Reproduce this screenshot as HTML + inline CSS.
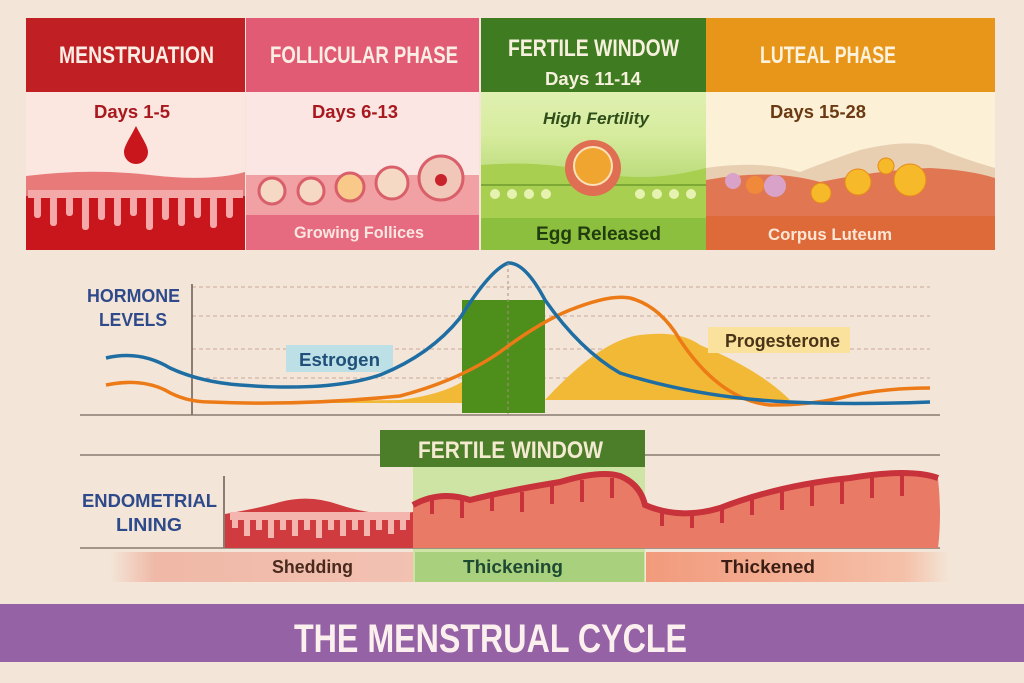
<!DOCTYPE html>
<html><head><meta charset="utf-8"><style>
html,body{margin:0;padding:0;background:#f3e6d8;}
svg{display:block}
text{font-family:"Liberation Sans Narrow","Liberation Sans",sans-serif;font-weight:bold}
</style></head><body>
<svg width="1024" height="683" viewBox="0 0 1024 683" xmlns="http://www.w3.org/2000/svg">
<defs>
<linearGradient id="gbg" x1="0" y1="0" x2="0" y2="1"><stop offset="0" stop-color="#eef7d2"/><stop offset="0.5" stop-color="#d7ec9e"/><stop offset="1" stop-color="#8fc244"/></linearGradient>
<linearGradient id="lbl" x1="0" y1="0" x2="1" y2="0"><stop offset="0" stop-color="#f3e6d8"/><stop offset="0.15" stop-color="#f0b8a6"/><stop offset="1" stop-color="#f2c1b2"/></linearGradient>
<linearGradient id="lbr" x1="0" y1="0" x2="1" y2="0"><stop offset="0" stop-color="#f29a7c"/><stop offset="0.85" stop-color="#f5c0a8"/><stop offset="1" stop-color="#f3e6d8"/></linearGradient>
</defs>
<rect width="1024" height="683" fill="#f3e6d8"/>

<!-- Panel 1 -->
<rect x="26" y="18" width="219" height="232" fill="#fbe6e0"/>
<rect x="26" y="18" width="219" height="74" fill="#c01f24"/>
<text x="59" y="63" font-size="24" fill="#fbeee4" textLength="155" lengthAdjust="spacingAndGlyphs">MENSTRUATION</text>
<text x="94" y="118" font-size="18" fill="#a8181e" textLength="76" lengthAdjust="spacingAndGlyphs">Days 1-5</text>
<path d="M136 126 C130 138 124 146 124 152 a12 12 0 0 0 24 0 C148 146 142 138 136 126Z" fill="#c8161c"/>
<path d="M26 176 Q90 168 150 175 T245 172 V250 H26Z" fill="#e87a7a"/>
<rect x="26" y="196" width="219" height="54" fill="#c8161c"/>
<g fill="#f4a8a8">
<path d="M28 190 h215 v8 H28z"/>
<rect x="34" y="196" width="7" height="22" rx="3"/><rect x="50" y="196" width="7" height="30" rx="3"/><rect x="66" y="196" width="7" height="20" rx="3"/><rect x="82" y="196" width="7" height="34" rx="3"/><rect x="98" y="196" width="7" height="24" rx="3"/><rect x="114" y="196" width="7" height="30" rx="3"/><rect x="130" y="196" width="7" height="20" rx="3"/><rect x="146" y="196" width="7" height="34" rx="3"/><rect x="162" y="196" width="7" height="24" rx="3"/><rect x="178" y="196" width="7" height="30" rx="3"/><rect x="194" y="196" width="7" height="22" rx="3"/><rect x="210" y="196" width="7" height="32" rx="3"/><rect x="226" y="196" width="7" height="22" rx="3"/>
</g>

<!-- Panel 2 -->
<rect x="246" y="18" width="233" height="232" fill="#fbe6e3"/>
<rect x="246" y="18" width="233" height="74" fill="#e05b73"/>
<text x="270" y="63" font-size="24" fill="#fbeee4" textLength="188" lengthAdjust="spacingAndGlyphs">FOLLICULAR PHASE</text>
<text x="312" y="118" font-size="18" fill="#a8181e" textLength="86" lengthAdjust="spacingAndGlyphs">Days 6-13</text>
<rect x="246" y="175" width="233" height="40" fill="#f1a0a3"/>
<rect x="246" y="215" width="233" height="35" fill="#e66a80"/>
<g stroke="#d9606a" stroke-width="3" fill="#f6d9c4">
<circle cx="272" cy="191" r="13"/><circle cx="311" cy="191" r="13"/><circle cx="350" cy="187" r="14" fill="#f9c98a"/><circle cx="392" cy="183" r="16"/><circle cx="441" cy="178" r="22" fill="#f1c7b9"/>
</g>
<circle cx="441" cy="180" r="6" fill="#c8232a"/>
<text x="294" y="238" font-size="17" fill="#fbe6e0" font-weight="normal" textLength="130" lengthAdjust="spacingAndGlyphs">Growing Follices</text>

<!-- Panel 3 -->
<rect x="481" y="18" width="225" height="232" fill="url(#gbg)"/>
<rect x="481" y="18" width="225" height="74" fill="#3f7c21"/>
<text x="508" y="56" font-size="24" fill="#f6f0dc" textLength="171" lengthAdjust="spacingAndGlyphs">FERTILE WINDOW</text>
<text x="545" y="85" font-size="18" fill="#f6f0dc" textLength="96" lengthAdjust="spacingAndGlyphs">Days 11-14</text>
<text x="543" y="124" font-size="17" fill="#2f4e1a" font-style="italic" textLength="106" lengthAdjust="spacingAndGlyphs">High Fertility</text>
<path d="M481 165 Q540 160 593 172 T706 168 V250 H481Z" fill="#a8cf50"/>
<path d="M481 185 H706" stroke="#7ca836" stroke-width="2"/>
<g fill="#e6f3b0"><circle cx="495" cy="194" r="5"/><circle cx="512" cy="194" r="5"/><circle cx="529" cy="194" r="5"/><circle cx="546" cy="194" r="5"/><circle cx="640" cy="194" r="5"/><circle cx="657" cy="194" r="5"/><circle cx="674" cy="194" r="5"/><circle cx="691" cy="194" r="5"/></g>
<rect x="481" y="218" width="225" height="32" fill="#8dbf3e"/>
<circle cx="593" cy="168" r="28" fill="#e06e52"/>
<circle cx="593" cy="166" r="19" fill="#f0a531" stroke="#fbe2b8" stroke-width="2"/>
<text x="536" y="240" font-size="19" fill="#213d10" textLength="125" lengthAdjust="spacingAndGlyphs">Egg Released</text>

<!-- Panel 4 -->
<rect x="706" y="18" width="289" height="232" fill="#fcf0d7"/>
<rect x="706" y="18" width="289" height="74" fill="#e8961a"/>
<text x="760" y="63" font-size="24" fill="#fdf2dc" textLength="136" lengthAdjust="spacingAndGlyphs">LUTEAL PHASE</text>
<text x="770" y="118" font-size="18" fill="#6b3a12" textLength="96" lengthAdjust="spacingAndGlyphs">Days 15-28</text>
<path d="M706 168 Q760 160 800 172 Q830 160 860 150 Q900 140 930 145 Q960 158 995 168 V250 H706Z" fill="#e9cfb2"/>
<path d="M706 180 Q770 168 820 182 Q880 170 930 168 Q970 170 995 178 V250 H706Z" fill="#e07752"/>
<rect x="706" y="216" width="289" height="34" fill="#de6a3a"/>
<g fill="#f5b92a" stroke="#e78a1a"><circle cx="858" cy="182" r="13"/><circle cx="910" cy="180" r="16"/><circle cx="886" cy="166" r="8"/><circle cx="821" cy="193" r="10"/></g>
<g fill="#d9a2c8"><circle cx="733" cy="181" r="8"/><circle cx="775" cy="186" r="11"/></g>
<circle cx="755" cy="185" r="9" fill="#f08a3a"/>
<text x="768" y="240" font-size="17" fill="#fbe6d6" font-weight="normal" textLength="124" lengthAdjust="spacingAndGlyphs">Corpus Luteum</text>

<!-- Hormone chart -->
<text x="87" y="302" font-size="18" fill="#2f4a8a" textLength="93" lengthAdjust="spacingAndGlyphs">HORMONE</text>
<text x="99" y="326" font-size="18" fill="#2f4a8a" textLength="68" lengthAdjust="spacingAndGlyphs">LEVELS</text>
<g stroke="#c9a79a" stroke-width="1" stroke-dasharray="4 3">
<line x1="192" y1="287" x2="930" y2="287"/><line x1="192" y1="316" x2="930" y2="316"/><line x1="192" y1="349" x2="930" y2="349"/><line x1="192" y1="378" x2="930" y2="378"/>
</g>
<line x1="192" y1="284" x2="192" y2="415" stroke="#6a5a50" stroke-width="1.5"/>
<line x1="80" y1="415" x2="940" y2="415" stroke="#8a7a70" stroke-width="1.5"/>
<path d="M200 403 L400 400 Q440 395 462 382 V403Z" fill="#f2b936"/>
<path d="M545 400 Q600 340 640 335 Q680 330 700 345 Q760 370 790 400 H545Z" fill="#f2b936"/>
<rect x="462" y="300" width="83" height="113" fill="#4e8e1a"/>
<rect x="286" y="345" width="107" height="27" fill="#bde0e6"/>
<text x="299" y="366" font-size="18" fill="#20507a" font-weight="normal" textLength="81" lengthAdjust="spacingAndGlyphs">Estrogen</text>
<rect x="708" y="327" width="142" height="26" fill="#fbe29c"/>
<text x="725" y="347" font-size="18" fill="#4a3418" font-weight="normal" textLength="115" lengthAdjust="spacingAndGlyphs">Progesterone</text>
<path d="M106 385 Q140 378 165 390 Q185 402 210 402 Q300 406 400 396 Q460 380 500 352 Q540 322 570 310 Q610 294 630 298 Q660 306 680 340 Q720 400 770 405 Q810 405 840 398 Q880 388 930 388" fill="none" stroke="#ec7a16" stroke-width="3.5"/>
<path d="M106 358 Q140 350 170 368 Q200 382 240 385 Q330 392 380 375 Q430 355 460 318 Q490 270 508 263 Q525 262 545 300 Q580 350 620 373 Q700 398 790 402 Q850 405 930 402" fill="none" stroke="#1f6ea3" stroke-width="3.5"/>
<line x1="508" y1="263" x2="508" y2="415" stroke="#a89080" stroke-width="1" stroke-dasharray="3 3"/>

<!-- Fertile window / lining -->
<line x1="80" y1="455" x2="940" y2="455" stroke="#8a7a70" stroke-width="1.5"/>
<rect x="413" y="467" width="232" height="115" fill="#cde4a4"/>
<rect x="380" y="430" width="265" height="37" fill="#4c7e2a"/>
<text x="418" y="458" font-size="24" fill="#f4ead0" textLength="185" lengthAdjust="spacingAndGlyphs">FERTILE WINDOW</text>
<text x="82" y="507" font-size="18" fill="#2f4a8a" textLength="135" lengthAdjust="spacingAndGlyphs">ENDOMETRIAL</text>
<text x="116" y="531" font-size="18" fill="#2f4a8a" textLength="66" lengthAdjust="spacingAndGlyphs">LINING</text>
<line x1="224" y1="476" x2="224" y2="548" stroke="#6a5a50" stroke-width="1.5"/>
<line x1="80" y1="548" x2="940" y2="548" stroke="#8a7a70" stroke-width="1.5"/>
<path d="M225 514 Q260 508 280 502 Q310 494 340 505 Q380 518 413 512 V548 H225Z" fill="#cf3b3e"/>
<g fill="#f3b5ae"><rect x="230" y="512" width="180" height="8"/>
<path d="M232 518 v10 h6 v-10z M244 518 v18 h6 v-18z M256 518 v12 h6 v-12z M268 518 v20 h6 v-20z M280 518 v12 h6 v-12z M292 518 v18 h6 v-18z M304 518 v12 h6 v-12z M316 518 v20 h6 v-20z M328 518 v12 h6 v-12z M340 518 v18 h6 v-18z M352 518 v12 h6 v-12z M364 518 v18 h6 v-18z M376 518 v12 h6 v-12z M388 518 v16 h6 v-16z M400 518 v12 h6 v-12z"/></g>
<path d="M413 505 Q440 490 470 500 Q510 490 560 482 Q600 470 620 476 Q640 484 645 505 Q680 520 720 508 Q780 485 850 478 Q910 468 938 478 Q942 515 938 548 H413Z" fill="#e87a66"/>
<path d="M413 505 Q440 490 470 500 Q510 490 560 482 Q600 470 620 476 Q640 484 645 505 Q680 520 720 508 Q780 485 850 478 Q910 468 938 478" fill="none" stroke="#c8323a" stroke-width="6"/>
<g fill="#c8323a"><rect x="430" y="500" width="4" height="14"/><rect x="460" y="500" width="4" height="18"/><rect x="490" y="495" width="4" height="16"/><rect x="520" y="492" width="4" height="20"/><rect x="550" y="486" width="4" height="18"/><rect x="580" y="480" width="4" height="22"/><rect x="610" y="478" width="4" height="20"/><rect x="660" y="510" width="4" height="16"/><rect x="690" y="512" width="4" height="16"/><rect x="720" y="505" width="4" height="18"/><rect x="750" y="495" width="4" height="20"/><rect x="780" y="488" width="4" height="22"/><rect x="810" y="484" width="4" height="22"/><rect x="840" y="480" width="4" height="24"/><rect x="870" y="476" width="4" height="22"/><rect x="900" y="474" width="4" height="22"/></g>
<rect x="110" y="552" width="303" height="30" fill="url(#lbl)"/>
<rect x="415" y="552" width="229" height="30" fill="#a9d07c"/>
<rect x="646" y="552" width="304" height="30" fill="url(#lbr)"/>
<text x="272" y="573" font-size="18" fill="#4a2a1e" font-weight="normal" textLength="81" lengthAdjust="spacingAndGlyphs">Shedding</text>
<text x="463" y="573" font-size="18" fill="#1e4a34" font-weight="normal" textLength="100" lengthAdjust="spacingAndGlyphs">Thickening</text>
<text x="721" y="573" font-size="18" fill="#3a1e14" font-weight="normal" textLength="94" lengthAdjust="spacingAndGlyphs">Thickened</text>

<!-- Title banner -->
<rect x="0" y="604" width="1024" height="58" fill="#9562a6"/>
<text x="294" y="652" font-size="40" fill="#fbf0ee" textLength="393" lengthAdjust="spacingAndGlyphs">THE MENSTRUAL CYCLE</text>
</svg>
</body></html>
